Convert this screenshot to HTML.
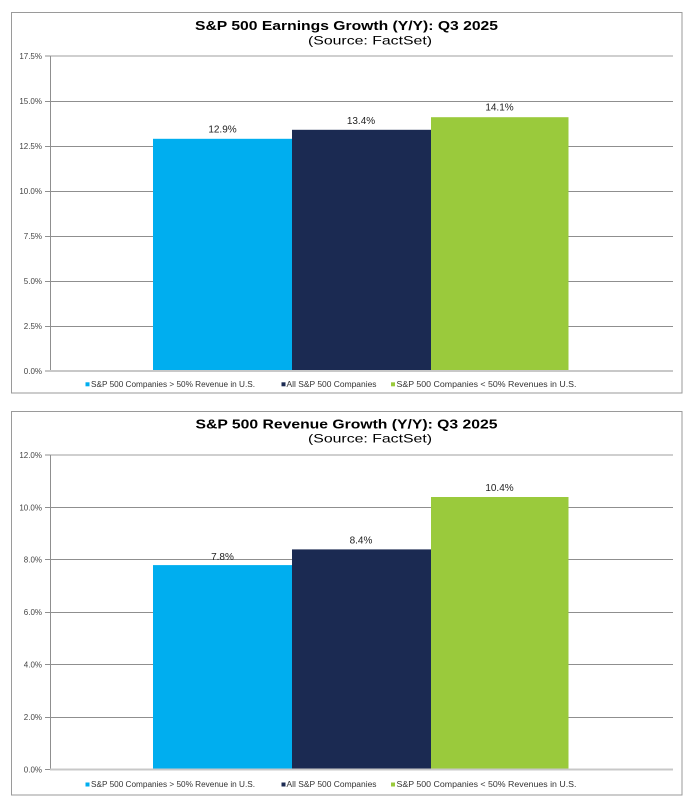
<!DOCTYPE html>
<html><head><meta charset="utf-8"><style>
html,body{margin:0;padding:0;background:#fff;}
svg{display:block;font-family:"Liberation Sans",Arial,sans-serif;}
</style></head><body>
<svg width="697" height="807" viewBox="0 0 697 807" xmlns="http://www.w3.org/2000/svg">
<rect x="0" y="0" width="697" height="807" fill="#fff"/>
<!-- ===== Top chart ===== -->
<rect x="11.5" y="12.5" width="670.5" height="380.5" fill="#fff" stroke="#9a9a9a" stroke-width="1"/>
<text x="346.5" y="30" text-anchor="middle" font-size="12.5" font-weight="bold" fill="#000" textLength="303" lengthAdjust="spacingAndGlyphs">S&amp;P 500 Earnings Growth (Y/Y): Q3 2025</text>
<text x="370" y="44.3" text-anchor="middle" font-size="12" fill="#000" textLength="124" lengthAdjust="spacingAndGlyphs">(Source: FactSet)</text>
<g stroke="#8f8f8f" stroke-width="1">
<line x1="45" y1="101.5" x2="673" y2="101.5"/>
<line x1="45" y1="146.5" x2="673" y2="146.5"/>
<line x1="45" y1="191.5" x2="673" y2="191.5"/>
<line x1="45" y1="236.5" x2="673" y2="236.5"/>
<line x1="45" y1="281.5" x2="673" y2="281.5"/>
<line x1="45" y1="326.5" x2="673" y2="326.5"/>
<line x1="45" y1="56" x2="50" y2="56"/>
<line x1="45" y1="371" x2="50" y2="371"/>
</g>
<line x1="50" y1="56" x2="673" y2="56" stroke="#cfcfcf" stroke-width="2"/>
<line x1="50.5" y1="56" x2="50.5" y2="371" stroke="#8f8f8f" stroke-width="1"/>
<rect x="153" y="138.8" width="139" height="232.2" fill="#00AEEF"/>
<rect x="292" y="129.8" width="139" height="241.2" fill="#1B2A52"/>
<rect x="431" y="117.2" width="137.5" height="253.8" fill="#9ACA3C"/>
<line x1="50" y1="371" x2="673" y2="371" stroke="#c8c8c8" stroke-width="2"/>
<g font-size="8" fill="#444" text-anchor="end">
<text x="42" y="59">17.5%</text>
<text x="42" y="104">15.0%</text>
<text x="42" y="149">12.5%</text>
<text x="42" y="194">10.0%</text>
<text x="42" y="239">7.5%</text>
<text x="42" y="284">5.0%</text>
<text x="42" y="329">2.5%</text>
<text x="42" y="374">0.0%</text>
</g>
<g font-size="10" fill="#222" text-anchor="middle">
<text x="222.5" y="132.7">12.9%</text>
<text x="361" y="124">13.4%</text>
<text x="499.5" y="110.7">14.1%</text>
</g>
<rect x="85.5" y="382.3" width="4" height="4" fill="#00AEEF"/>
<text x="91" y="387" font-size="8" fill="#333" textLength="164" lengthAdjust="spacingAndGlyphs">S&amp;P 500 Companies &gt; 50% Revenue in U.S.</text>
<rect x="281.5" y="382.3" width="4" height="4" fill="#1B2A52"/>
<text x="286.5" y="387" font-size="8" fill="#333" textLength="90" lengthAdjust="spacingAndGlyphs">All S&amp;P 500 Companies</text>
<rect x="391" y="382.3" width="4" height="4" fill="#9ACA3C"/>
<text x="396.5" y="387" font-size="8" fill="#333" textLength="180" lengthAdjust="spacingAndGlyphs">S&amp;P 500 Companies &lt; 50% Revenues in U.S.</text>

<!-- ===== Bottom chart ===== -->
<rect x="11.5" y="411.5" width="670.5" height="383.5" fill="#fff" stroke="#9a9a9a" stroke-width="1"/>
<text x="346.5" y="428.3" text-anchor="middle" font-size="12.5" font-weight="bold" fill="#000" textLength="302" lengthAdjust="spacingAndGlyphs">S&amp;P 500 Revenue Growth (Y/Y): Q3 2025</text>
<text x="370" y="442.5" text-anchor="middle" font-size="12" fill="#000" textLength="124" lengthAdjust="spacingAndGlyphs">(Source: FactSet)</text>
<g stroke="#8f8f8f" stroke-width="1">
<line x1="45" y1="507.5" x2="673" y2="507.5"/>
<line x1="45" y1="559.5" x2="673" y2="559.5"/>
<line x1="45" y1="612.5" x2="673" y2="612.5"/>
<line x1="45" y1="664.5" x2="673" y2="664.5"/>
<line x1="45" y1="717.5" x2="673" y2="717.5"/>
<line x1="45" y1="455" x2="50" y2="455"/>
<line x1="45" y1="769.5" x2="50" y2="769.5"/>
</g>
<line x1="50" y1="455" x2="673" y2="455" stroke="#cfcfcf" stroke-width="2"/>
<line x1="50.5" y1="455" x2="50.5" y2="769.5" stroke="#8f8f8f" stroke-width="1"/>
<rect x="153" y="565.1" width="139" height="204.4" fill="#00AEEF"/>
<rect x="292" y="549.4" width="139" height="220.1" fill="#1B2A52"/>
<rect x="431" y="497" width="137.5" height="272.5" fill="#9ACA3C"/>
<line x1="50" y1="769.5" x2="673" y2="769.5" stroke="#c8c8c8" stroke-width="2"/>
<g font-size="8" fill="#444" text-anchor="end">
<text x="42" y="458">12.0%</text>
<text x="42" y="510.5">10.0%</text>
<text x="42" y="562.5">8.0%</text>
<text x="42" y="615">6.0%</text>
<text x="42" y="667.5">4.0%</text>
<text x="42" y="720">2.0%</text>
<text x="42" y="772.5">0.0%</text>
</g>
<g font-size="10" fill="#222" text-anchor="middle">
<text x="222.5" y="560">7.8%</text>
<text x="361" y="543.4">8.4%</text>
<text x="499.5" y="491">10.4%</text>
</g>
<rect x="85.5" y="782.5" width="4" height="4" fill="#00AEEF"/>
<text x="91" y="787.2" font-size="8" fill="#333" textLength="164" lengthAdjust="spacingAndGlyphs">S&amp;P 500 Companies &gt; 50% Revenue in U.S.</text>
<rect x="281.5" y="782.5" width="4" height="4" fill="#1B2A52"/>
<text x="286.5" y="787.2" font-size="8" fill="#333" textLength="90" lengthAdjust="spacingAndGlyphs">All S&amp;P 500 Companies</text>
<rect x="391" y="782.5" width="4" height="4" fill="#9ACA3C"/>
<text x="396.5" y="787.2" font-size="8" fill="#333" textLength="180" lengthAdjust="spacingAndGlyphs">S&amp;P 500 Companies &lt; 50% Revenues in U.S.</text>
</svg>
</body></html>
